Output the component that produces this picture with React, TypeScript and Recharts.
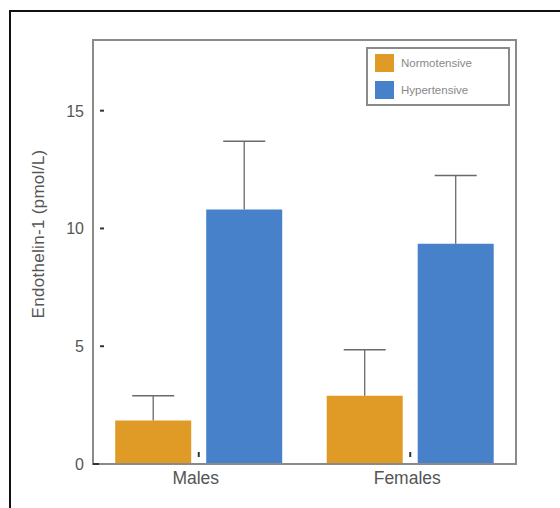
import React from 'react';
import { BarChart, Bar, XAxis, YAxis, Rectangle, ReferenceArea } from 'recharts';

const categories = ['Males', 'Females'];
const normotensive = [1.85, 2.9];
const normotensiveErr = [1.05, 1.95];
const hypertensive = [10.8, 9.35];
const hypertensiveErr = [2.9, 2.9];
const yTicks = [0, 5, 10, 15];
const yDomain = [0, 18];

const data = categories.map((c, i) => ({
  name: c,
  normo: normotensive[i],
  normoErr: normotensiveErr[i],
  hyper: hypertensive[i],
  hyperErr: hypertensiveErr[i],
}));

const ORANGE = '#DF9B25';
const BLUE = '#4681C9';
const FONT = '"Liberation Sans", Arial, sans-serif';

const makeShape = (valKey: string, errKey: string) => (props: any) => {
  const { x, y, width, height, payload, fill } = props;
  const v = payload[valKey];
  const e = payload[errKey];
  const pxPerUnit = height / v;
  const top = y - e * pxPerUnit;
  const cx = x + width / 2;
  return (
    <g>
      <Rectangle x={x} y={y} width={width} height={height} fill={fill} />
      <line x1={cx} y1={y} x2={cx} y2={top} stroke="#6a6a6a" strokeWidth={1.3} />
      <line x1={cx - 21} y1={top} x2={cx + 21} y2={top} stroke="#6a6a6a" strokeWidth={1.5} />
    </g>
  );
};

const YTick = (props: any) => {
  const { x, y, payload } = props;
  return (
    <g>
      <text x={x - 9} y={y} dy={6} textAnchor="end" fontSize={16} fill="#555" fontFamily={FONT}>
        {payload.value}
      </text>
      {payload.value === 0 ? (
        <line x1={x} y1={y} x2={x + 6} y2={y} stroke="#333" strokeWidth={2} />
      ) : (
        <line x1={x + 7} y1={y} x2={x + 11} y2={y} stroke="#333" strokeWidth={2} />
      )}
    </g>
  );
};

const XTick = (props: any) => {
  const { x, y, payload } = props;
  return (
    <g>
      <line x1={x} y1={y - 7} x2={x} y2={y - 12} stroke="#333" strokeWidth={2} />
      <text x={x - 3} y={y + 20} textAnchor="middle" fontSize={17.5} fill="#555" fontFamily={FONT}>
        {payload.value}
      </text>
    </g>
  );
};

const LegendBox = () => (
  <div
    style={{
      position: 'absolute',
      left: 366,
      top: 47,
      width: 140,
      height: 55,
      border: '2px solid #8a8a8a',
      background: '#fff',
      fontFamily: FONT,
      fontSize: 11.5,
      color: '#888',
    }}
  >
    {[
      { c: ORANGE, t: 'Normotensive' },
      { c: BLUE, t: 'Hypertensive' },
    ].map((it, i) => (
      <div key={i} style={{ position: 'absolute', left: 7, top: 5 + i * 27, display: 'flex', alignItems: 'center' }}>
        <div style={{ width: 19, height: 18, background: it.c, marginRight: 7 }} />
        <span>{it.t}</span>
      </div>
    ))}
  </div>
);

export default function App() {
  return (
    <div style={{ position: 'absolute', left: 0, top: 0, width: 560, height: 508, background: '#fff', overflow: 'hidden' }}>
      <div
        style={{
          position: 'absolute',
          left: 9,
          top: 10,
          width: 600,
          height: 600,
          borderLeft: '2px solid #111',
          borderTop: '2px solid #111',
        }}
      />
      <div style={{ position: 'absolute', left: 0, top: 0 }}>
        <BarChart
          width={560}
          height={508}
          data={data}
          margin={{ top: 40, right: 44, bottom: 0, left: 0 }}
          barCategoryGap="10.5%"
          barGap={15}
        >
          <XAxis
            dataKey="name"
            height={44}
            axisLine={{ stroke: '#8a8a8a', strokeWidth: 2 }}
            tickLine={false}
            tickSize={0}
            tickMargin={0}
            tick={<XTick />}
            interval={0}
          />
          <YAxis
            width={93}
            domain={yDomain}
            ticks={yTicks}
            allowDataOverflow
            axisLine={{ stroke: '#8a8a8a', strokeWidth: 2 }}
            tickLine={false}
            tickSize={0}
            tickMargin={0}
            tick={<YTick />}
            label={{
              value: 'Endothelin-1 (pmol/L)',
              angle: -90,
              position: 'insideLeft',
              dx: 33,
              dy: -18,
              style: { textAnchor: 'middle', fontSize: 17, letterSpacing: 0.3, fill: '#555', fontFamily: FONT },
            }}
          />
          <ReferenceArea
            y1={yDomain[0]}
            y2={yDomain[1]}
            fill="none"
            fillOpacity={0}
            stroke="#8a8a8a"
            strokeWidth={2}
            ifOverflow="visible"
          />
          <Bar dataKey="normo" fill={ORANGE} isAnimationActive={false} shape={makeShape('normo', 'normoErr')} />
          <Bar dataKey="hyper" fill={BLUE} isAnimationActive={false} shape={makeShape('hyper', 'hyperErr')} />
        </BarChart>
      </div>
      <LegendBox />
    </div>
  );
}
